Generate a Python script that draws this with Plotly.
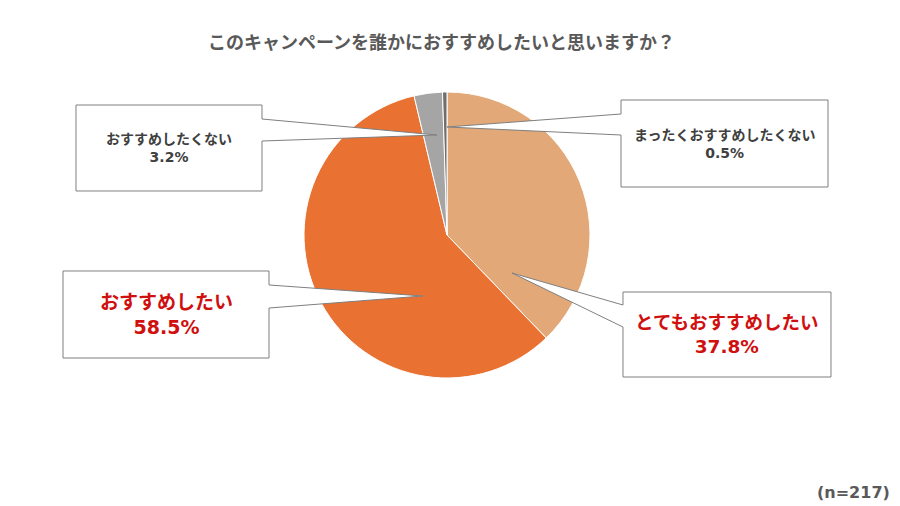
import plotly.graph_objects as go

W, H = 900, 506

labels = ["とてもおすすめしたい", "おすすめしたい", "おすすめしたくない", "まったくおすすめしたくない"]
values = [37.8, 58.5, 3.2, 0.5]
colors = ["#E2A878", "#E97132", "#A5A5A5", "#6E6E6E"]
title_text = "このキャンペーンを誰かにおすすめしたいと思いますか？"
n_text = "(n=217)"

FONT = "DejaVu Sans, Noto Sans CJK JP"


def px(x):
    return x / W


def py(y):
    return 1 - y / H


# callout boxes: (left, top, right, bottom), pointer side, pointer base y1/y2, tip
callouts = [
    dict(box=(76, 105, 262, 191), side="right", base=(119, 141), tip=(437, 135),
         text=f"{labels[2]}<br>{values[2]}%", size=14, color="#404040"),
    dict(box=(621, 100, 828, 187), side="left", base=(114, 135), tip=(447, 127),
         text=f"{labels[3]}<br>{values[3]}%", size=14, color="#404040"),
    dict(box=(63, 271, 269, 358), side="right", base=(285, 308), tip=(423, 296),
         text=f"{labels[1]}<br>{values[1]}%", size=19, color="#D00F0F"),
    dict(box=(623, 292, 831, 377), side="left", base=(305, 327), tip=(512, 273),
         text=f"{labels[0]}<br>{values[0]}%", size=18.5, color="#D00F0F"),
]

fig = go.Figure(go.Pie(
    labels=labels,
    values=values,
    sort=False,
    direction="clockwise",
    rotation=0,
    marker=dict(colors=colors, line=dict(color="white", width=1)),
    textinfo="none",
    hoverinfo="label+percent",
    domain=dict(x=[px(447 - 143), px(447 + 143)], y=[py(378), py(92)]),
    showlegend=False,
))

shapes = []
annotations = []
for c in callouts:
    l, t, r, b = c["box"]
    y1, y2 = c["base"]
    tx, ty = c["tip"]
    if c["side"] == "right":
        pts = [(l, t), (r, t), (r, y1), (tx, ty), (r, y2), (r, b), (l, b)]
    else:
        pts = [(l, t), (r, t), (r, b), (l, b), (l, y2), (tx, ty), (l, y1)]
    path = "M " + " L ".join(f"{px(x):.5f},{py(y):.5f}" for x, y in pts) + " Z"
    shapes.append(dict(type="path", path=path, xref="paper", yref="paper",
                       fillcolor="white", line=dict(color="#7F7F7F", width=1),
                       layer="above"))
    annotations.append(dict(
        x=px((l + r) / 2), y=py((t + b) / 2), xref="paper", yref="paper",
        xanchor="center", yanchor="middle",
        text=f"<b>{c['text']}</b>", showarrow=False, align="center",
        font=dict(family=FONT, size=c["size"], color=c["color"]),
    ))

annotations.append(dict(
    x=px(441), y=py(43), xref="paper", yref="paper",
    xanchor="center", yanchor="middle",
    text=f"<b>{title_text}</b>", showarrow=False,
    font=dict(family=FONT, size=18, color="#595959"),
))
annotations.append(dict(
    x=px(892), y=py(492), xref="paper", yref="paper",
    xanchor="right", yanchor="middle",
    text=f"<b>{n_text}</b>", showarrow=False,
    font=dict(family=FONT, size=16, color="#595959"),
))

fig.update_layout(
    width=W, height=H,
    margin=dict(l=0, r=0, t=0, b=0),
    paper_bgcolor="white",
    plot_bgcolor="white",
    shapes=shapes,
    annotations=annotations,
)

fig.write_html("out.html", config={"displayModeBar": False},
               post_script="document.body.style.margin='0px';")
